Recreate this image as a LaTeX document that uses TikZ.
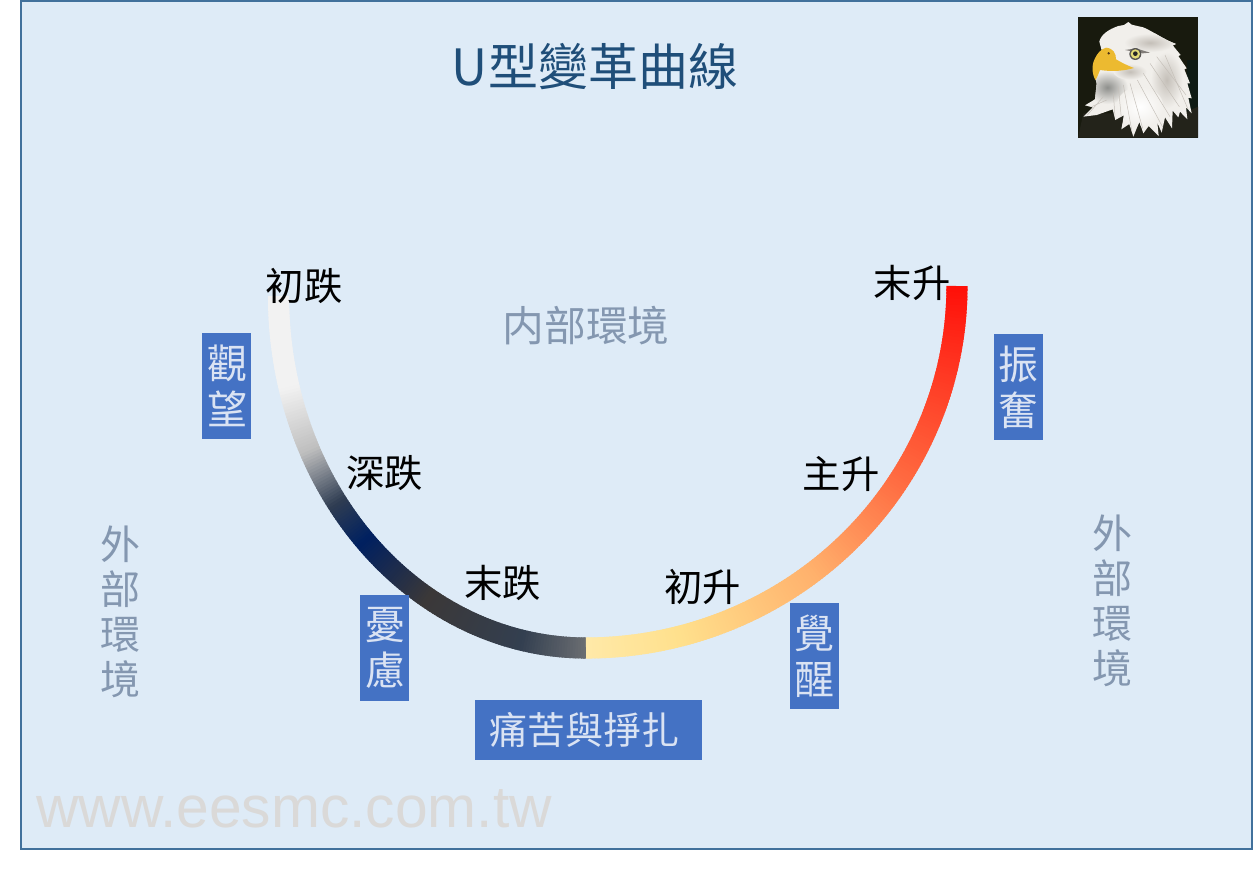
\documentclass[tikz,border=0pt]{standalone}
\usepackage{fontspec}
\setmainfont{Noto Sans CJK TC}
\newfontfamily\latinfont{Liberation Sans}
\definecolor{framefill}{HTML}{DEEBF7}
\definecolor{frameline}{HTML}{41719C}
\definecolor{titlecol}{HTML}{1F4E79}
\definecolor{softcol}{HTML}{8497B0}
\definecolor{boxfill}{HTML}{4472C4}
\definecolor{boxtext}{HTML}{DAE3F3}
\definecolor{markcol}{HTML}{DAD9D8}
\definecolor{la}{HTML}{F2F2F2}\definecolor{lb}{HTML}{BFBFBF}\definecolor{lc}{HTML}{2F3D52}
\definecolor{ld}{HTML}{002060}\definecolor{le}{HTML}{3B3838}\definecolor{lf}{HTML}{333F50}
\definecolor{lg}{HTML}{6B6E72}
\definecolor{ra}{HTML}{FF0F08}\definecolor{rb}{HTML}{FF2A1A}\definecolor{rc}{HTML}{FF6A40}
\definecolor{rd}{HTML}{FFB06C}\definecolor{re}{HTML}{FFE08C}\definecolor{rf}{HTML}{FFE9A8}
\definecolor{headcol}{HTML}{F1EFEB}
\definecolor{darkbg}{HTML}{181A0E}
\definecolor{darkside}{HTML}{0E1A14}
\definecolor{darkbody}{HTML}{23231A}
\definecolor{beakcol}{HTML}{ECBA30}
\definecolor{throat}{HTML}{8E8F8C}
\definecolor{softgrey}{HTML}{C4BFB8}
\newcommand{\bandarc}[8]{%
  \pgfmathtruncatemacro{\nseg}{2*(#6-#5)}%
  \foreach \i in {1,...,\nseg}{%
    \pgfmathsetmacro{\ta}{#5+(\i-1)*0.5}%
    \pgfmathsetmacro{\tb}{min(#5+\i*0.5+0.3,90)}%
    \pgfmathsetmacro{\pc}{100*(\i-0.5)/\nseg}%
    \draw[bandline,draw=#8!\pc!#7] ({#1+#3*cos(\ta)},{#2+#4*sin(\ta)}) -- ({#1+#3*cos(\tb)},{#2+#4*sin(\tb)});
  }%
}
\newcommand{\headpath}{(148,125) .. controls (152,105) and (175,88) .. (205,78) -- (222,75) -- (235,66) -- (245,74) -- (262,78) -- (280,82)
 .. controls (310,95) and (340,118) .. (378,132) -- (368,136) -- (392,165) -- (385,168) -- (410,205) -- (403,208) -- (420,250)
 -- (412,250) -- (425,295) -- (415,293) -- (425,340) -- (408,322) -- (412,358) -- (390,335) -- (385,352) -- (368,332)
 -- (366,385) -- (345,352) -- (335,398) -- (322,368) -- (326,408) -- (296,378) -- (280,400) -- (268,365)
 -- (250,410) -- (238,372) -- (214,388) -- (222,345) -- (196,360) -- (188,328) -- (140,345) -- (100,350)
 -- (128,322) -- (105,316) -- (135,298) -- (140,250) -- (135,230) -- (160,170) -- cycle}
\tikzset{
  bandline/.style={line width=15.8pt,line cap=butt},
  blackword/.style={font=\fontsize{28.8pt}{32pt}\selectfont,text=black,inner sep=0pt},
  softword/.style={font=\fontsize{30pt}{33.75pt}\selectfont,text=softcol,inner sep=0pt,align=center},
  tagbox/.style={fill=boxfill,text=boxtext,font=\fontsize{30pt}{34.5pt}\selectfont,align=center,inner sep=0pt,minimum width=36.75pt,minimum height=79.5pt},
}
\begin{document}
\begin{tikzpicture}[x=0.75pt,y=-0.75pt]
\useasboundingbox (0,0) rectangle (1253,876);
\draw[fill=framefill,draw=frameline,line width=1.5pt] (21,1) rectangle (1252,849);
% curve
\bandarc{586}{296}{-307.5}{352}{0}{15}{la}{la}
\bandarc{586}{296}{-307.5}{352}{15}{26}{la}{lb}
\bandarc{586}{296}{-307.5}{352}{26}{36}{lb}{lc}
\bandarc{586}{296}{-307.5}{352}{36}{44}{lc}{ld}
\bandarc{586}{296}{-307.5}{352}{44}{59}{ld}{le}
\bandarc{586}{296}{-307.5}{352}{59}{78}{le}{lf}
\bandarc{586}{296}{-307.5}{352}{78}{90}{lf}{lg}
\bandarc{586}{286}{371}{362}{0}{9}{ra}{rb}
\bandarc{586}{286}{371}{362}{9}{32}{rb}{rc}
\bandarc{586}{286}{371}{362}{32}{52}{rc}{rd}
\bandarc{586}{286}{371}{362}{52}{75}{rd}{re}
\bandarc{586}{286}{371}{362}{75}{90}{re}{rf}
% texts
\node[font=\fontsize{37.5pt}{40pt}\selectfont,text=titlecol,inner sep=0pt] (title) at (595,67) {U型變革曲線};
\node[blackword] (w1) at (304,286) {初跌};
\node[blackword] (w2) at (384.5,473) {深跌};
\node[blackword] (w3) at (502.5,583) {末跌};
\node[blackword] (w4) at (702.5,587) {初升};
\node[blackword] (w5) at (841,474) {主升};
\node[blackword] (w6) at (912,283) {末升};
\node[softword,font=\fontsize{31.3pt}{34pt}\selectfont] (inner) at (586,326) {内部環境};
\node[softword] (outl) at (120,612) {外\\部\\環\\境};
\node[softword] (outr) at (1112,601) {外\\部\\環\\境};
\node[tagbox] (t1) at (226.5,386) {\hspace*{1pt}觀\\\hspace*{1pt}望};
\node[tagbox] (t2) at (384.5,648) {\hspace*{1pt}憂\\\hspace*{1pt}慮};
\node[tagbox] (t3) at (814.5,656) {覺\\醒};
\node[tagbox] (t4) at (1018.5,387) {振\\奮};
\node[fill=boxfill,text=boxtext,font=\fontsize{28.5pt}{32pt}\selectfont,inner sep=0pt,minimum width=170.25pt,minimum height=45pt] (t5) at (588.5,730) {\hspace*{-6.5pt}痛苦與掙扎};
\node[font=\latinfont\fontsize{44.05pt}{46pt}\selectfont,text=markcol,inner sep=0pt,anchor=base west] (mark) at (36,827) {www.eesmc.com.tw};
% eagle picture, drawn in 3x crop coordinates
\begin{scope}[shift={(1050,0)},x=0.25pt,y=-0.25pt]
\clip (84,52) rectangle (444,413);
\fill[darkbg] (84,52) rectangle (444,413);
\fill[darkside] (410,180) rectangle (444,413);
% dark body
\fill[darkbody] (84,413) -- (100,340) -- (230,340) -- (400,340) -- (444,320) -- (444,413) -- cycle;
% head and neck
\fill[headcol] \headpath;
\begin{scope}
\clip \headpath;
\shade[inner color=throat,outer color=headcol] (172,262) ellipse (62 and 50);
\shade[inner color=softgrey,outer color=headcol] (300,128) ellipse (78 and 28);
\shade[inner color=softgrey,outer color=headcol] (350,240) ellipse (48 and 85);
\shade[inner color=softgrey,outer color=headcol] (240,215) ellipse (50 and 24);
\shade[inner color=white,outer color=headcol] (270,320) ellipse (70 and 60);
\foreach \a/\b/\c/\d in {300/190/388/320,320/170/408/285,345/165/415/330,280/220/360/350,262/240/340/385,240/250/278/385,220/255/246/395,205/260/216/375,190/280/195/350,170/300/125/320,160/290/112/345}{
  \draw[line width=0.35pt,color=softgrey] (\a,\b) -- (\c,\d);
}
\end{scope}
% beak
\fill[beakcol] (168,143) .. controls (190,145) and (198,160) .. (198,178)
 .. controls (215,188) and (235,198) .. (252,204) .. controls (225,212) and (190,216) .. (150,210)
 .. controls (146,220) and (142,232) .. (136,240) .. controls (126,222) and (124,195) .. (135,175)
 .. controls (142,160) and (152,148) .. (168,143) -- cycle;
\fill[black!60!brown] (176,160) circle (4);
% eye
\fill[black!35!softgrey] (225,150) -- (258,145) -- (300,158) -- (278,160) -- cycle;
\fill[black!55!softgrey] (256,162) circle (18);
\fill[yellow!45!softgrey] (256,162) circle (14);
\fill[black!85] (256,161) circle (7);
\end{scope}
\end{tikzpicture}
\end{document}
